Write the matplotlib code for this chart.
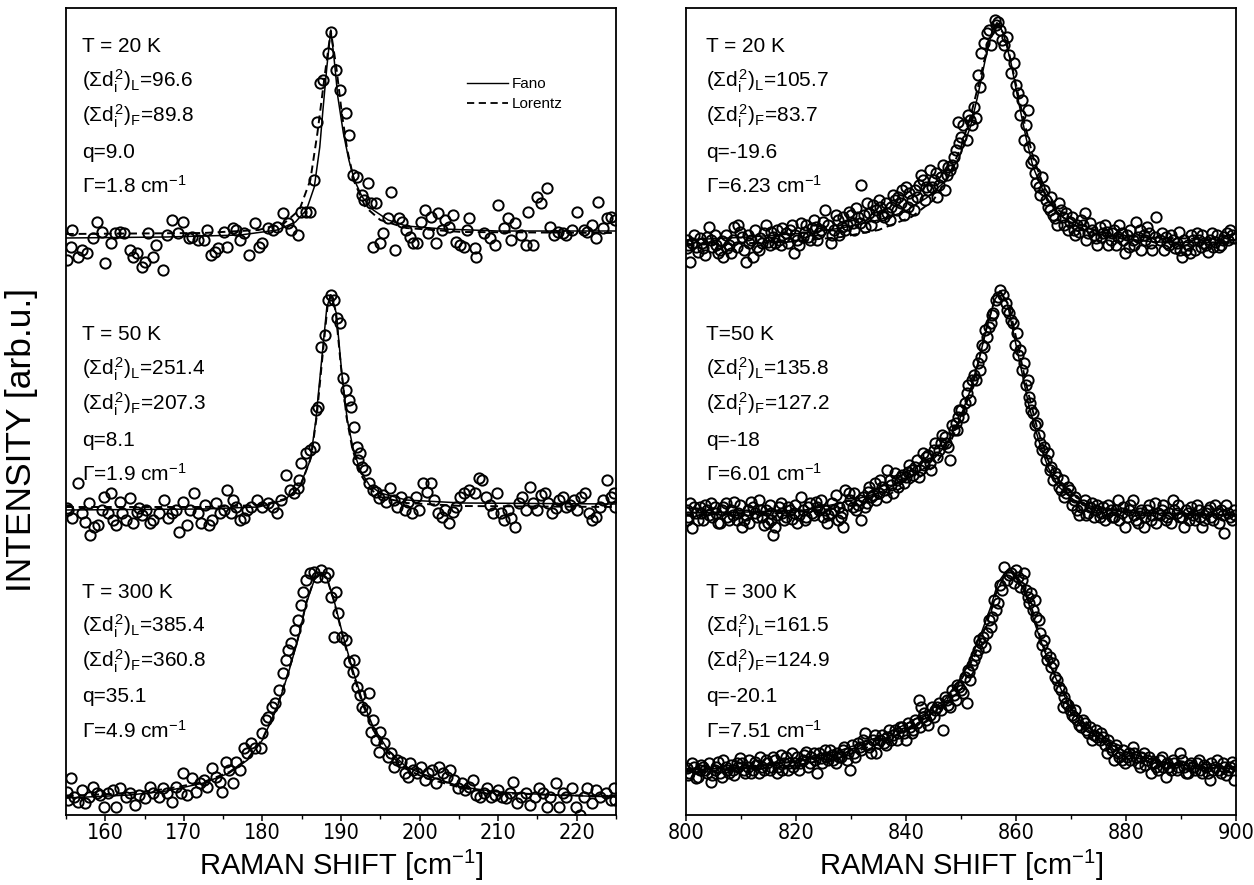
import numpy as np
import matplotlib
matplotlib.use("Agg")
import matplotlib.pyplot as plt
from matplotlib.lines import Line2D
from matplotlib.ticker import MultipleLocator

plt.rcParams['font.family'] = ['Liberation Sans', 'DejaVu Sans']
plt.rcParams['mathtext.fontset'] = 'custom'
plt.rcParams['mathtext.rm'] = 'Liberation Sans'
plt.rcParams['mathtext.it'] = 'Liberation Sans'
plt.rcParams['mathtext.bf'] = 'Liberation Sans:bold'
plt.rcParams['mathtext.sf'] = 'Liberation Sans'

# ---------------- LEFT PANEL (155-225 cm^-1) ----------------
l20_pts = [(155.1,555),(155.6,568),(155.8,585),(156.5,558),(157.0,565),(157.7,562),(158.4,577),(158.9,593),
 (159.6,583),(160.0,552),(160.7,572),(161.2,582),(161.9,583),(162.4,582),(163.1,565),(163.5,558),(164.0,562),
 (164.7,548),(165.0,553),(165.4,582),(166.1,558),(166.4,570),(167.3,545),(167.8,580),(168.5,595),(169.2,582),
 (169.9,593),(170.6,577),(171.1,578),(171.8,575),(172.5,575),(172.9,585),(173.4,560),(173.9,563),(174.4,567),
 (175.1,583),(175.5,568),(176.2,587),(176.7,585),(177.2,575),(177.6,582),(178.3,560),(179.0,592),(179.5,568),
 (180.0,572),(180.7,587),(181.4,585),(181.9,588),(182.6,602),(183.3,592),(183.7,585),(184.5,580),(184.9,603),
 (185.6,603),(186.1,603),(186.6,635),(187.0,693),(187.3,732),(187.7,735),(188.3,762),(188.7,783),(189.4,745),
 (189.9,725),(190.6,702),(191.0,680),(191.5,640),(192.0,638),(192.7,620),(192.9,615),(193.4,632),(193.8,612),
 (194.1,568),(194.5,612),(195.0,572),(195.3,582),(196.0,597),(196.4,623),(196.9,565),(197.4,597),(197.8,593),
 (198.3,585),(198.8,578),(199.2,572),(199.7,572),(200.2,593),(200.7,605),(201.1,582),(201.4,598),(202.1,572),
 (202.3,602),(202.8,585),(203.2,595),(203.7,588),(204.2,600),(204.6,573),(205.1,570),(205.6,568),(206.1,585),
 (206.3,597),(207.0,567),(207.2,558),(208.2,582),(208.9,577),(209.6,570),(210.0,610),(210.8,587),(211.2,597),
 (211.7,575),(212.2,592),(212.9,580),(213.6,570),(213.8,603),(214.5,570),(215.0,618),(215.5,612),(216.2,627),
 (216.6,588),(217.1,580),(217.6,583),(218.3,582),(218.7,580),(219.4,585),(220.1,603),(220.9,585),(221.3,583),
 (222.0,590),(222.5,577),(222.7,613),(223.4,587),(223.9,597),(224.4,598),(224.9,595)]
l20_fano = [(155,577),(167.8,578),(177.2,580),(181.9,585),(184.2,593),(185.6,605),(186.6,628),(187.3,668),
 (187.7,705),(188.2,748),(188.7,785),(189.1,758),(189.6,718),(190.3,682),(191.0,655),(191.7,635),(192.7,618),
 (194.1,605),(196.0,595),(198.3,589),(203.0,586),(210.0,584),(225,584)]
l20_lor = [(155,581),(172.5,582),(179.5,585),(182.8,592),(184.7,605),(186.1,635),(187.0,682),(187.97,742),
 (188.7,784),(189.4,748),(190.1,702),(190.8,665),(191.7,633),(193.1,608),(195.0,595),(198.3,587),(205.4,583),(225,582)]

l50_pts = [(155.1,307),(155.3,305),(155.8,297),(156.5,332),(157.0,302),(157.4,293),(157.9,312),(158.1,280),
 (158.6,288),(159.1,290),(159.6,305),(159.8,318),(160.3,302),(160.7,322),(161.0,295),(161.4,290),(161.9,313),
 (162.1,302),(162.6,295),(163.1,317),(163.5,292),(164.0,303),(164.3,307),(164.7,300),(165.2,305),(165.7,292),
 (166.1,295),(166.8,302),(167.5,315),(168.0,297),(168.5,302),(169.0,305),(169.4,283),(169.9,313),(170.4,290),
 (170.8,305),(171.3,322),(171.8,302),(172.2,292),(172.7,310),(173.2,290),(173.6,295),(174.1,312),(174.6,302),
 (175.1,305),(175.5,325),(176.0,302),(176.2,315),(176.7,308),(177.2,295),(177.6,297),(178.1,305),(178.6,308),
 (179.3,315),(180.0,308),(180.7,312),(181.4,308),(181.9,302),(182.3,315),(183.0,340),(183.5,325),(184.0,322),
 (184.5,327),(184.7,335),(184.9,352),(185.6,362),(186.1,365),(186.6,368),(186.8,405),(187.1,408),(187.4,468),
 (188.0,480),(188.3,515),(188.7,520),(189.1,515),(189.5,497),(189.9,492),(190.3,437),(190.6,425),(191.0,415),
 (191.3,408),(191.7,388),(192.0,368),(192.2,355),(192.4,362),(192.7,348),(193.1,345),(193.6,332),(194.1,325),
 (194.5,323),(194.8,317),(195.3,320),(195.7,313),(196.2,327),(196.7,315),(197.1,308),(197.6,318),(198.1,305),
 (198.5,313),(199.0,302),(199.5,318),(199.9,305),(200.4,332),(200.9,323),(201.4,332),(201.8,315),(202.3,302),
 (202.8,298),(203.2,305),(203.7,292),(204.2,303),(204.6,308),(205.1,318),(205.6,322),(206.3,325),(207.0,322),
 (207.5,337),(207.9,335),(208.4,318),(208.9,310),(209.3,302),(209.8,322),(210.3,302),(210.8,295),(211.2,305),
 (211.7,297),(212.2,288),(212.6,312),(213.1,318),(213.6,305),(214.0,328),(214.5,312),(215.0,305),(215.5,320),
 (215.9,322),(216.4,312),(216.9,302),(217.3,307),(217.8,315),(218.3,318),(218.7,308),(219.2,310),(219.7,315),
 (220.1,305),(220.6,318),(221.1,322),(221.6,302),(222.0,295),(222.5,298),(223.0,308),(223.4,315),(223.9,335),
 (224.4,318),(224.8,322),(224.9,308)]
l50_fano = [(155,305),(172.5,306),(179.5,308),(182.8,315),(184.7,328),(186.1,355),(186.8,395),(187.5,452),
 (188.2,508),(188.7,520),(189.4,502),(190.1,442),(190.8,395),(191.5,368),(192.4,345),(193.6,330),(195.0,322),
 (198.3,315),(205.4,312),(225,311)]
l50_lor = [(155,308),(172.5,308),(180,310),(183.3,317),(184.9,330),(186.2,358),(186.9,398),(187.6,455),
 (188.3,510),(188.7,520),(189.3,505),(190.0,448),(190.7,398),(191.4,368),(192.3,343),(193.6,327),(195.0,318),
 (198.3,312),(205.4,309),(225,308)]

l300_pts = [(155.1,23),(155.3,15),(155.7,37),(156.0,18),(156.5,13),(157.0,25),(157.4,12),(157.9,18),(158.4,28),
 (158.9,22),(159.3,20),(159.8,8),(160.3,22),(161.0,25),(161.4,8),(161.9,27),(162.6,18),(163.1,22),(163.8,10),
 (164.3,20),(165.0,17),(165.7,28),(166.1,22),(166.8,18),(167.3,27),(167.8,22),(168.5,13),(169.0,28),(169.7,22),
 (169.9,42),(170.4,20),(171.1,37),(171.5,23),(172.0,32),(172.5,35),(172.9,28),(173.6,47),(174.1,38),(174.6,33),
 (174.8,23),(175.3,53),(175.8,45),(176.2,32),(176.7,53),(177.2,45),(177.6,67),(178.1,62),(178.6,72),(179.0,67),
 (179.8,67),(180.0,82),(180.5,95),(180.7,98),(181.2,108),(181.6,112),(182.1,125),(182.6,142),(183.0,155),
 (183.3,165),(183.7,172),(184.2,185),(184.5,195),(184.9,210),(185.2,223),(185.5,235),(186.1,242),(186.6,243),
 (187.0,238),(187.5,245),(188.0,238),(188.4,242),(188.7,218),(189.1,178),(189.4,223),(189.6,202),(190.1,178),
 (190.6,175),(191.0,153),(191.5,143),(191.7,155),(192.0,128),(192.4,120),(192.7,108),(193.1,105),(193.6,122),
 (193.8,83),(194.1,95),(194.5,75),(194.8,63),(195.0,83),(195.5,72),(196.0,58),(196.4,62),(196.7,48),(197.1,55),
 (197.6,53),(198.1,42),(198.5,38),(198.8,52),(199.2,45),(199.7,42),(200.2,48),(200.7,35),(201.1,42),(201.6,45),
 (202.1,32),(202.5,48),(203.0,42),(203.5,38),(203.9,45),(204.4,35),(204.9,27),(205.4,32),(205.8,25),(206.3,28),
 (206.8,35),(207.2,20),(207.7,18),(208.2,22),(208.6,27),(209.1,18),(209.6,20),(210.0,25),(210.5,18),(211.0,17),
 (211.5,22),(211.9,33),(212.4,12),(212.9,18),(213.6,22),(214.0,10),(214.7,18),(215.2,27),(215.7,22),(216.2,8),
 (216.6,18),(217.3,32),(217.8,8),(218.3,22),(218.7,18),(219.4,27),(219.9,8),(220.4,0),(220.9,18),(221.3,27),
 (222.0,12),(222.5,25),(223.0,18),(223.7,22),(224.4,15),(224.8,27),(224.9,15)]
l300_fano = [(155,17),(163.1,20),(167.8,24),(172.5,32),(175.8,42),(178.1,55),(180,75),(181.9,108),(183.3,142),
 (184.5,175),(185.6,212),(186.6,235),(187.4,242),(188.2,237),(189.1,215),(190.3,178),(191.5,145),(192.7,115),
 (194.1,88),(196,65),(198.3,48),(200.7,40),(205.4,28),(210,23),(217.1,20),(225,18)]
l300_lor = [(155,19),(163.1,22),(167.8,26),(172.5,33),(175.8,43),(178.1,56),(180,76),(181.9,109),(183.3,143),
 (184.5,176),(185.6,213),(186.6,236),(187.4,243),(188.2,237),(189.1,214),(190.3,176),(191.5,142),(192.7,112),
 (194.1,85),(196,62),(198.3,46),(200.7,37),(205.4,27),(210,22),(217.1,20),(225,19)]

# ---------------- RIGHT PANEL (800-900 cm^-1) ----------------
r20_pts = [(800.1,575),(800.1,567),(800.8,553),(801.1,572),(801.8,568),(802.5,577),(803.1,567),(803.8,578),
 (804.2,588),(804.8,568),(805.5,570),(806.2,565),(806.8,558),(807.5,567),(808.2,562),(808.8,588),(809.5,590),
 (810.2,578),(810.9,553),(811.5,572),(812.2,558),(812.9,568),(813.5,577),(814.2,582),(814.9,573),(815.5,583),
 (816.2,572),(816.9,575),(817.5,587),(818.2,582),(818.9,585),(819.6,562),(820.2,575),(820.9,592),(821.6,583),
 (822.2,578),(822.9,587),(823.6,588),(824.2,582),(824.9,593),(825.3,605),(826.3,572),(826.9,585),(827.6,595),
 (828.3,588),(828.9,585),(829.6,603),(830.3,592),(830.9,607),(831.6,592),(831.9,630),(832.6,588),(833.3,602),
 (834.0,610),(834.6,605),(835.3,608),(836.0,598),(836.6,602),(837.3,608),(838.0,615),(838.6,618),(839.3,625),
 (840.0,628),(840.3,608),(841.0,615),(841.7,625),(842.3,630),(843.0,635),(843.7,628),(844.3,645),(845.0,635),
 (845.7,618),(846.3,638),(847.0,625),(847.7,648),(848.4,650),(848.7,658),(849.4,693),(850.0,678),(851.0,675),
 (851.7,695),(852.4,708),(852.7,697),(853.4,728),(853.7,762),(854.1,772),(854.7,782),(855.4,770),(856.1,795),
 (856.7,793),(857.4,775),(858.4,778),(859.1,742),(859.6,752),(860.4,722),(861.1,715),(861.4,675),(862.1,705),
 (862.8,652),(863.4,642),(864.1,628),(864.8,638),(865.1,625),(865.8,608),(866.4,618),(867.1,597),(867.8,612),
 (868.5,598),(869.1,602),(869.8,593),(870.5,585),(871.1,590),(871.8,595),(872.5,602),(873.1,582),(873.8,585),
 (874.5,577),(875.2,588),(875.8,582),(876.5,583),(877.2,575),(877.8,585),(878.5,578),(879.2,582),(879.8,562),
 (880.5,568),(881.2,575),(881.8,593),(882.5,585),(883.2,580),(883.9,588),(884.5,572),(885.2,578),(885.5,598),
 (886.2,575),(886.9,565),(887.5,572),(888.2,580),(888.9,567),(889.6,583),(890.2,558),(890.9,565),(891.6,562),
 (892.2,575),(892.9,582),(893.6,568),(894.2,572),(894.9,563),(895.6,582),(896.2,573),(896.9,568),(897.6,575),
 (898.3,582),(898.9,585),(899.6,577),
 (800.4,570),(801.4,580),(802.1,563),(802.9,572),(803.5,560),(804.5,575),(805.2,580),(805.9,562),(806.5,574),
 (807.2,580),(807.9,570),(808.5,575),(809.2,568),(809.9,583),(810.6,565),(811.2,580),(811.9,575),(812.6,585),
 (813.2,565),(813.9,572),(814.6,590),(815.2,570),(815.9,578),(816.6,585),(817.2,570),(817.9,578),(818.6,572),
 (819.2,590),(819.9,580),(820.6,570),(821.2,578),(821.9,590),(822.6,575),(823.3,595),(823.9,575),(824.6,585),
 (825.9,590),(826.6,580),(827.3,600),(827.9,580),(828.6,598),(829.3,590),(830.0,600),(830.6,585),(831.3,598),
 (832.3,600),(832.9,612),(833.6,590),(834.3,598),(835.0,615),(835.6,600),(836.3,612),(837.0,595),(837.7,620),
 (838.3,605),(839.0,612),(839.7,600),(840.6,622),(841.4,605),(842.0,618),(842.7,640),(843.4,615),(844.0,625),
 (844.7,628),(845.4,642),(846.0,630),(846.7,650),(847.4,640),(848.0,645),(849.0,665),(849.7,672),(850.4,690),
 (851.3,700),(852.0,690),(853.0,740),(855.0,785),(856.4,790),(857.0,785),(857.8,770),(858.8,760),(860.0,730),
 (860.8,700),(861.8,690),(862.4,668),(863.0,655),(863.7,632),(864.4,620),(865.4,615),(866.1,605),(866.8,600),
 (867.4,590),(868.2,605),(868.8,590),(869.5,585),(870.2,598),(870.8,580),(871.5,583),(872.2,590),(872.8,575),
 (873.5,592),(874.2,580),(874.8,570),(875.5,578),(876.2,590),(876.8,570),(877.5,582),(878.2,570),(878.8,590),
 (879.5,575),(880.2,580),(880.8,585),(881.5,570),(882.2,578),(882.8,565),(883.5,575),(884.2,582),(884.8,565),
 (886.5,582),(887.2,578),(887.9,570),(888.5,575),(889.2,572),(889.9,565),(890.6,575),(891.2,570),(891.9,580),
 (892.6,565),(893.2,575),(893.9,580),(894.6,570),(895.2,575),(895.9,568),(896.6,580),(897.3,570),(897.9,578),
 (898.6,575),(899.3,580)]
r20_fano = [(800,575),(811.5,578),(821.6,582),(828.3,587),(835,595),(839.7,603),(843.7,617),(847,633),
 (849.7,658),(851.7,688),(853,718),(854.4,755),(855.7,785),(856.7,792),(857.7,782),(859.1,752),(860.4,715),
 (861.8,678),(863.1,648),(865.1,622),(867.1,605),(869.8,592),(873.1,583),(878.5,577),(885.2,573),(900,572)]
r20_lor = [(800,570),(818.2,573),(828.3,578),(835,585),(841,598),(845,615),(847.7,638),(850,668),(851.7,698),
 (853.4,735),(855.1,775),(856.5,792),(858.1,778),(859.7,738),(861.4,695),(863.1,658),(865.1,628),(867.7,605),
 (871.1,592),(875.1,583),(881.8,578),(900,575)]

r50_pts = [(800.1,305),(800.1,295),(800.8,312),(801.1,287),(801.8,302),(802.5,308),(803.1,295),(803.8,305),
 (804.5,312),(804.8,298),(805.5,302),(806.2,292),(806.8,308),(807.5,298),(808.2,305),(808.8,313),(809.5,302),
 (810.2,288),(810.5,295),(811.2,305),(811.9,313),(812.5,302),(813.2,315),(813.9,298),(814.5,305),(814.9,292),
 (815.5,302),(815.9,280),(816.2,288),(816.9,308),(817.5,302),(818.2,298),(818.9,305),(819.6,302),(820.2,292),
 (820.9,318),(821.6,295),(822.2,308),(822.9,302),(823.6,313),(824.2,305),(824.9,298),(825.6,292),(826.3,302),
 (826.9,305),(827.6,295),(828.3,302),(828.6,288),(828.9,325),(829.6,322),(830.3,308),(830.9,305),(831.6,315),
 (831.9,295),(832.6,308),(833.0,323),(833.6,318),(834.3,332),(835.0,322),(835.6,328),(836.6,345),(837.0,335),
 (837.6,322),(838.3,335),(839.0,338),(839.7,332),(840.3,343),(841.0,345),(841.7,348),(842.3,338),(843.0,362),
 (843.7,358),(844.3,352),(845.0,365),(845.7,358),(846.3,372),(847.0,378),(847.7,368),(848.0,355),(848.7,385),
 (849.0,392),(849.4,398),(850.0,405),(850.7,412),(851.0,422),(851.7,415),(852.0,435),(852.7,435),(853.4,445),
 (853.7,458),(854.1,468),(854.7,478),(855.1,488),(855.4,492),(855.9,502),(856.4,515),(857.1,525),(858.1,512),
 (858.7,502),(859.4,492),(860.1,482),(860.8,465),(861.4,452),(862.1,435),(862.4,418),(862.8,405),(863.1,402),
 (863.8,392),(864.4,372),(865.1,368),(865.8,362),(866.4,348),(867.1,342),(867.8,328),(868.5,335),(869.1,322),
 (869.8,325),(870.5,315),(871.1,305),(871.8,308),(872.5,315),(873.1,302),(873.8,312),(874.5,305),(875.2,298),
 (875.8,308),(876.5,302),(877.2,305),(877.8,298),(878.5,315),(879.2,302),(879.8,288),(880.5,305),(881.2,315),
 (881.8,295),(882.5,302),(883.2,288),(883.9,305),(884.5,295),(885.2,312),(885.9,302),(886.5,305),(887.2,295),
 (887.9,302),(888.5,315),(889.2,302),(889.9,298),(890.6,288),(891.2,302),(891.9,308),(892.6,295),(893.2,305),
 (893.9,288),(894.6,302),(895.2,308),(895.9,295),(896.6,302),(897.3,305),(897.9,282),(898.6,302),(899.3,295),
 (899.6,305),
 (800.4,298),(801.4,308),(802.1,295),(802.8,302),(803.5,310),(804.1,300),(805.2,308),(805.8,292),(806.5,305),
 (807.2,312),(807.8,295),(808.5,300),(809.2,295),(809.8,310),(810.9,300),(811.5,292),(812.2,308),(812.9,298),
 (813.5,305),(814.2,290),(815.2,310),(815.5,295),(816.5,300),(817.2,312),(817.9,295),(818.6,308),(819.2,296),
 (819.9,310),(820.6,300),(821.2,305),(821.9,298),(822.6,312),(823.2,300),(823.9,308),(824.6,315),(825.2,305),
 (825.9,300),(826.6,312),(827.2,320),(827.9,308),(828.1,298),(829.3,310),(829.9,315),(830.6,322),(831.2,310),
 (832.2,318),(832.9,312),(833.3,328),(834.0,320),(834.6,315),(835.3,335),(836.0,325),(836.3,318),(837.3,330),
 (838.0,342),(838.6,328),(839.3,340),(840.0,338),(840.6,350),(841.3,340),(842.0,355),(842.6,345),(843.3,350),
 (844.0,360),(844.6,345),(845.3,372),(846.0,365),(846.6,380),(847.3,372),(848.3,390),(849.2,385),(849.7,405),
 (850.3,398),(851.3,430),(852.3,440),(853.0,452),(853.9,470),(854.4,485),(855.6,500),(856.7,518),(857.6,520),
 (858.4,505),(859.0,495),(859.8,470),(860.4,460),(861.1,445),(861.8,430),(862.6,412),(863.4,390),(864.1,380),
 (864.8,365),(865.4,355),(866.1,345),(866.8,335),(867.4,338),(868.1,325),(868.8,318),(869.4,328),(870.1,310),
 (870.8,318),(871.5,300),(872.1,310),(872.8,300),(873.5,308),(874.1,298),(874.8,310),(875.5,302),(876.1,295),
 (876.8,310),(877.5,298),(878.1,305),(878.8,295),(879.5,308),(880.1,298),(880.8,310),(881.5,300),(882.1,292),
 (882.8,305),(883.5,298),(884.1,310),(884.8,300),(885.5,292),(886.2,300),(886.8,310),(887.5,298),(888.2,292),
 (888.8,305),(889.5,310),(890.2,298),(890.9,305),(891.5,295),(892.2,300),(892.9,310),(893.5,298),(894.2,295),
 (894.9,305),(895.5,298),(896.2,310),(896.9,292),(897.6,300),(898.2,310),(898.9,298),(899.8,300)]
r50_fano = [(800,302),(811.5,303),(821.6,305),(828.3,312),(835,322),(839.7,335),(843.7,348),(847,368),
 (849.7,395),(851.7,425),(853.4,458),(854.7,488),(856.1,515),(857.1,523),(858.4,512),(859.7,478),(861.1,442),
 (862.4,408),(864.1,375),(865.8,348),(867.8,328),(870.5,315),(874.5,307),(881.8,302),(900,300)]
r50_lor = [(800,300),(818.2,302),(828.3,307),(835.6,317),(841,332),(845,348),(848,372),(850.4,402),(852.4,435),
 (854.4,482),(856.1,515),(857.1,524),(858.7,510),(860.4,468),(862.1,425),(863.8,388),(865.8,355),(868.1,332),
 (871.1,317),(875.8,307),(885.2,302),(900,300)]

r300_pts = [(800.1,47),(800.5,42),(801.1,52),(801.8,37),(802.5,45),(803.1,48),(803.8,42),(804.5,33),(805.2,45),
 (805.8,53),(806.5,38),(807.2,48),(807.8,42),(808.5,45),(809.2,52),(809.8,57),(810.5,45),(811.2,48),(811.9,42),
 (812.5,53),(813.2,42),(813.9,48),(814.5,55),(815.2,45),(815.9,58),(816.5,42),(817.2,60),(817.9,52),(818.6,45),
 (819.2,62),(819.9,52),(820.6,45),(821.2,55),(821.9,63),(822.6,52),(823.2,62),(823.9,42),(824.6,57),(825.3,65),
 (825.9,55),(826.6,60),(827.3,52),(827.9,58),(828.6,65),(829.3,55),(829.9,45),(830.6,62),(831.3,72),(831.9,65),
 (832.6,82),(833.3,68),(834.0,75),(834.6,62),(835.3,75),(836.0,72),(836.6,78),(837.3,75),(838.0,85),(838.6,82),
 (839.3,88),(840.0,75),(840.7,88),(841.3,85),(842.0,92),(842.3,115),(842.7,108),(843.3,102),(844.0,90),(844.7,108),
 (845.3,105),(846.0,112),(846.7,85),(847.4,115),(848.0,108),(848.4,125),(849.0,115),(849.7,128),(850.4,122),
 (851.0,112),(851.4,143),(851.7,135),(852.4,155),(853.0,165),(853.7,172),(854.4,168),(854.7,182),(855.4,188),
 (855.7,198),(856.4,205),(856.7,212),(857.4,225),(857.9,248),(858.4,235),(859.1,242),(859.7,232),(860.4,238),
 (860.8,228),(861.4,242),(862.1,218),(862.8,222),(863.4,215),(864.1,195),(864.4,182),(865.1,175),(865.4,162),
 (866.1,158),(866.8,152),(867.1,138),(867.8,128),(868.5,108),(869.1,112),(869.8,105),(870.5,98),(871.1,95),
 (871.8,88),(872.5,92),(873.1,82),(873.8,75),(874.5,85),(875.2,75),(875.8,78),(876.5,62),(877.2,68),(877.8,55),
 (878.5,62),(879.2,55),(879.8,52),(880.5,62),(881.2,68),(881.8,58),(882.5,48),(883.2,62),(883.9,55),(884.5,42),
 (885.2,52),(885.9,45),(886.5,58),(887.2,38),(887.9,48),(888.5,55),(889.2,45),(889.9,62),(890.6,48),(891.2,42),
 (891.9,52),(892.6,45),(893.2,55),(893.9,42),(894.6,48),(895.2,35),(895.9,45),(896.6,55),(897.3,42),(897.9,48),
 (898.6,45),(899.3,53),(899.6,35),
 (800.4,40),(801.4,48),(802.1,38),(802.8,50),(803.5,45),(804.1,52),(804.8,40),(805.5,48),(806.2,42),(806.8,55),
 (807.5,45),(808.1,50),(808.8,40),(809.5,48),(810.2,52),(810.8,42),(811.5,55),(812.2,45),(812.8,50),(813.5,58),
 (814.2,45),(814.8,52),(815.5,48),(816.2,55),(816.8,48),(817.5,45),(818.2,58),(818.8,52),(819.5,48),(820.2,58),
 (820.8,52),(821.5,60),(822.2,48),(822.8,58),(823.5,55),(824.2,62),(824.8,52),(825.5,58),(826.2,65),(826.8,55),
 (827.5,62),(828.2,58),(828.8,68),(829.5,62),(830.2,70),(830.8,58),(831.6,68),(832.2,75),(832.9,70),(833.6,62),
 (834.3,80),(834.9,72),(835.6,80),(836.3,70),(836.9,85),(837.6,80),(838.3,75),(838.9,88),(839.6,82),(840.3,92),
 (841.0,82),(841.6,95),(842.5,88),(843.0,98),(843.6,95),(844.3,100),(845.0,98),(845.6,108),(846.3,105),
 (847.0,118),(847.7,110),(848.7,120),(849.3,130),(850.0,125),(850.7,138),(851.2,145),(852.0,150),(852.7,160),
 (853.3,175),(854.0,178),(855.0,195),(856.0,215),(857.1,230),(858.7,240),(860.0,245),(861.1,235),(861.8,225),
 (862.4,212),(863.0,205),(863.7,198),(864.7,170),(865.7,155),(866.4,148),(867.4,135),(868.1,125),(868.8,118),
 (869.4,110),(870.1,100),(870.8,105),(871.4,90),(872.1,95),(872.8,85),(873.4,88),(874.1,80),(874.8,78),
 (875.5,82),(876.2,70),(876.8,75),(877.5,65),(878.1,70),(878.8,58),(879.5,65),(880.1,58),(880.8,55),(881.5,62),
 (882.1,52),(882.8,58),(883.5,50),(884.1,58),(884.8,52),(885.5,48),(886.2,55),(886.8,48),(887.5,52),(888.2,45),
 (888.8,52),(889.5,48),(890.2,55),(890.9,42),(891.5,50),(892.2,48),(892.9,52),(893.5,45),(894.2,50),(894.9,42),
 (895.5,52),(896.2,48),(896.9,45),(897.6,52),(898.2,40),(898.9,48),(899.8,50)]
r300_fano = [(800,45),(811.5,48),(821.6,55),(828.3,65),(835,78),(839.7,90),(843.7,102),(847,115),(849.7,135),
 (851.7,155),(853.7,182),(855.4,208),(856.7,232),(858.1,243),(859.4,242),(860.8,232),(862.1,215),(863.4,192),
 (865.1,165),(866.8,142),(868.5,122),(870.5,102),(873.1,85),(876.5,72),(880.5,62),(886.5,53),(893.2,48),(900,46)]
r300_lor = [(800,43),(818.2,48),(828.3,58),(835.6,73),(841.7,90),(846.4,108),(849.7,132),(852.4,158),(854.7,192),
 (856.4,222),(858.1,242),(859.4,243),(861.1,232),(862.8,208),(864.4,178),(866.4,148),(868.5,125),(871.1,102),
 (874.5,83),(878.5,70),(885.2,58),(893.2,51),(900,48)]

left_labels = [
    ["T = 20 K", r"$(\Sigma d_i^2)_L$=96.6", r"$(\Sigma d_i^2)_F$=89.8", "q=9.0", r"Γ=1.8 cm$^{-1}$"],
    ["T = 50 K", r"$(\Sigma d_i^2)_L$=251.4", r"$(\Sigma d_i^2)_F$=207.3", "q=8.1", r"Γ=1.9 cm$^{-1}$"],
    ["T = 300 K", r"$(\Sigma d_i^2)_L$=385.4", r"$(\Sigma d_i^2)_F$=360.8", "q=35.1", r"Γ=4.9 cm$^{-1}$"],
]
right_labels = [
    ["T = 20 K", r"$(\Sigma d_i^2)_L$=105.7", r"$(\Sigma d_i^2)_F$=83.7", "q=-19.6", r"Γ=6.23 cm$^{-1}$"],
    ["T=50 K", r"$(\Sigma d_i^2)_L$=135.8", r"$(\Sigma d_i^2)_F$=127.2", "q=-18", r"Γ=6.01 cm$^{-1}$"],
    ["T = 300 K", r"$(\Sigma d_i^2)_L$=161.5", r"$(\Sigma d_i^2)_F$=124.9", "q=-20.1", r"Γ=7.51 cm$^{-1}$"],
]

W, H = 1254, 885
fig = plt.figure(figsize=(W/100, H/100), dpi=100)
axL = fig.add_axes([66/W, 70/H, 550/W, 807/H])
axR = fig.add_axes([686/W, 70/H, 550/W, 807/H])

def draw(ax, spectra):
    for pts, fano, lor in spectra:
        px, py = np.array(pts).T
        ax.plot(px, py, 'o', ms=7.4, mfc='none', mec='black', mew=1.4, zorder=3)
        fx, fy = np.array(fano).T
        ax.plot(fx, fy, '-', color='black', lw=1.1, zorder=4)
        lx, ly = np.array(lor).T
        ax.plot(lx, ly, '--', color='black', lw=1.4, dashes=(4, 2.5), zorder=4)

draw(axL, [(l20_pts, l20_fano, l20_lor), (l50_pts, l50_fano, l50_lor), (l300_pts, l300_fano, l300_lor)])
draw(axR, [(r20_pts, r20_fano, r20_lor), (r50_pts, r50_fano, r50_lor), (r300_pts, r300_fano, r300_lor)])

for ax, xlim, major, minor, ticks in [(axL, (155, 225), 10, 5, [160, 170, 180, 190, 200, 210, 220]),
                                      (axR, (800, 900), 20, 10, [800, 820, 840, 860, 880, 900])]:
    ax.set_xlim(*xlim)
    ax.set_ylim(0, 807)
    ax.xaxis.set_minor_locator(MultipleLocator(minor))
    ax.set_xticks(ticks)
    ax.set_yticks([])
    ax.tick_params(axis='x', which='major', direction='out', length=4, width=1.1, top=False, pad=2)
    ax.tick_params(axis='x', which='minor', direction='out', length=3, width=1.0, top=False)
    for lab in ax.get_xticklabels():
        lab.set_fontfamily(['Liberation Sans Narrow', 'DejaVu Sans'])
        lab.set_fontstretch('condensed')
        lab.set_fontsize(15.5)
    for sp in ax.spines.values():
        sp.set_linewidth(1.3)
    ax.set_xlabel(r"RAMAN SHIFT [cm$^{-1}$]", fontsize=21, labelpad=3)

fig.text(22/W, 1 - 440/H, "INTENSITY [arb.u.]", rotation=90, ha='center', va='center', fontsize=25.5)

def annotate(ax, groups, x0, starts):
    for lines, y0 in zip(groups, starts):
        for i, t in enumerate(lines):
            ypix = y0 + 35*i + 7.5
            ax.text(x0, (815 - ypix)/807, t, transform=ax.transAxes, fontsize=15,
                    ha='left', va='baseline')

annotate(axL, left_labels, 0.029, [45, 333, 590])
annotate(axR, right_labels, 0.036, [45, 333, 590])

handles = [Line2D([], [], color='black', lw=1.0, ls='-'),
           Line2D([], [], color='black', lw=1.3, ls='--', dashes=(4, 2.5))]
axL.legend(handles, ['Fano', 'Lorentz'], loc='upper left', bbox_to_anchor=(0.729, 0.914),
           frameon=False, fontsize=11, handlelength=2.7, handletextpad=0.25, labelspacing=0.37,
           borderpad=0, borderaxespad=0)

fig.savefig("out.png", dpi=100)
